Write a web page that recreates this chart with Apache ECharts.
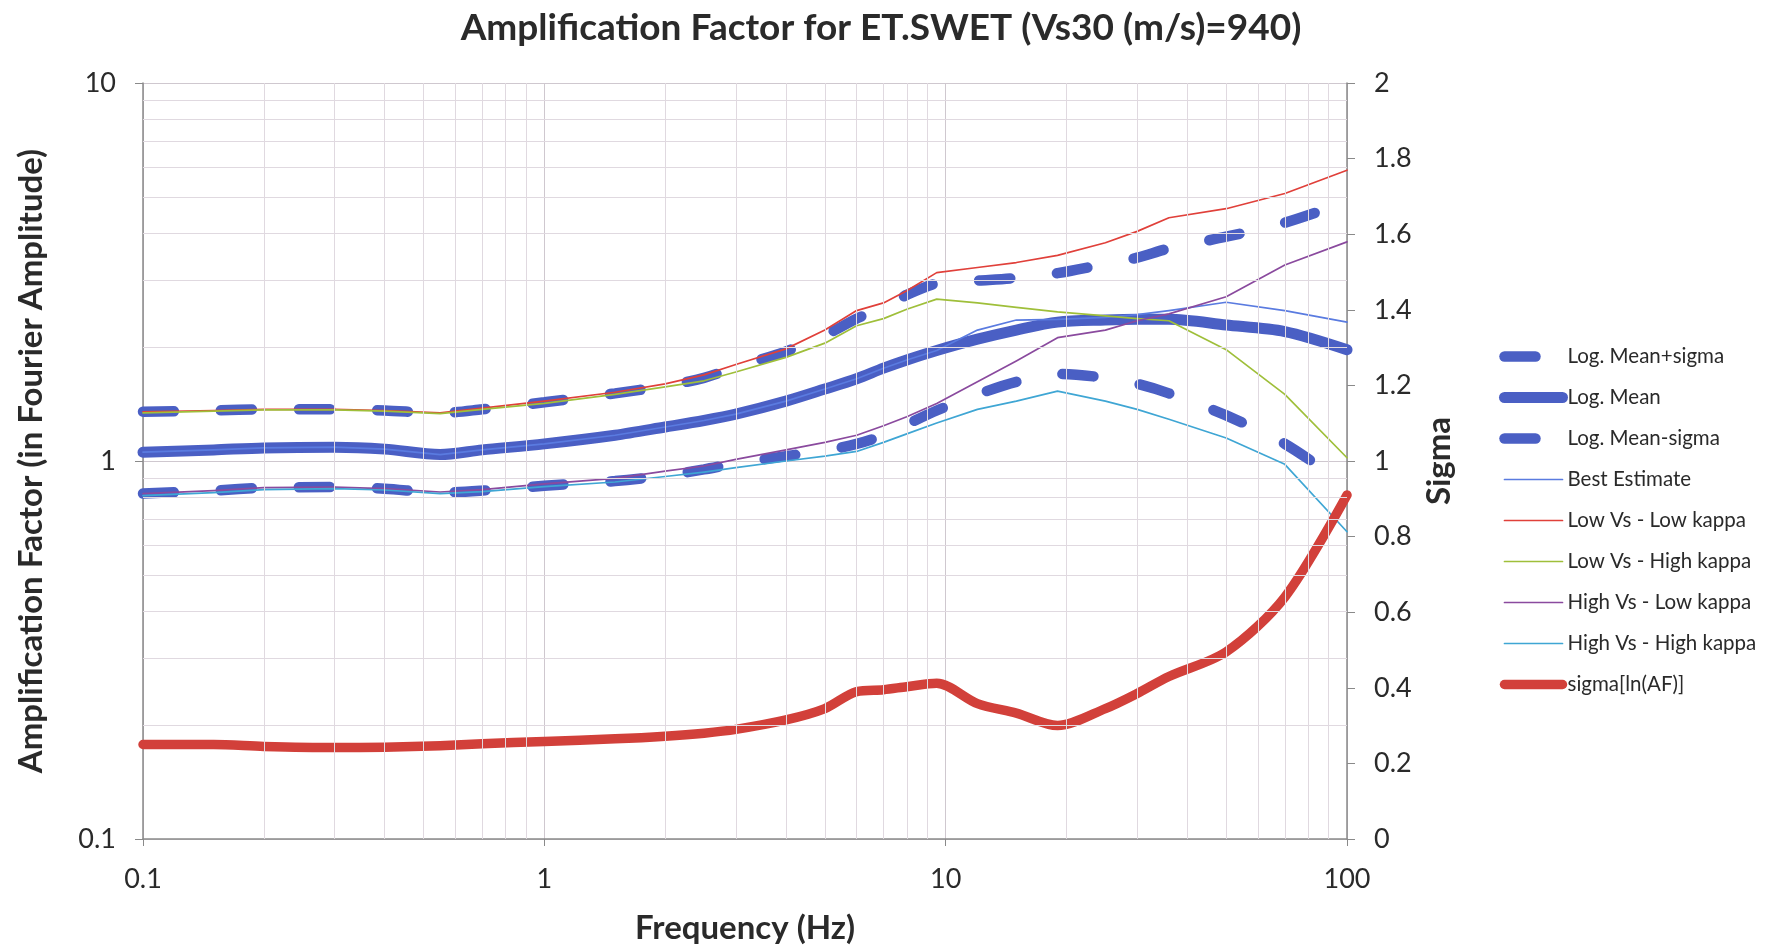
<!DOCTYPE html>
<html>
<head>
<meta charset="utf-8">
<script src="https://cdn.jsdelivr.net/npm/echarts@6/dist/echarts.min.js"></script>
<style>
html,body{margin:0;padding:0;background:#fff;}
#chart{width:1766px;height:950px;}
</style>
</head>
<body>
<div id="chart"></div>
<script>
// Frequency (Hz)
const freq = [0.1, 0.15, 0.2, 0.3, 0.4, 0.55, 0.7, 1, 1.5, 2, 2.5, 3, 4, 5, 6, 7, 8, 9.5, 12, 15, 19, 25, 30, 36, 50, 70, 100];
// Amplification factor series (left axis)
const logMeanPlusSigma = [1.35,1.36,1.37,1.37,1.36,1.34,1.37,1.43,1.51,1.58,1.66,1.77,1.95,2.15,2.38,2.56,2.75,2.95,3.0,3.05,3.14,3.32,3.45,3.65,3.92,4.27,4.85];
const logMean = [1.055,1.07,1.083,1.088,1.075,1.04,1.07,1.11,1.17,1.23,1.28,1.33,1.44,1.55,1.65,1.76,1.85,1.96,2.1,2.22,2.33,2.36,2.37,2.37,2.29,2.2,1.97];
const logMeanMinusSigma = [0.82,0.835,0.85,0.853,0.845,0.825,0.835,0.86,0.885,0.915,0.95,0.985,1.03,1.065,1.11,1.17,1.25,1.36,1.5,1.62,1.7,1.66,1.6,1.51,1.32,1.11,0.86];
const bestEstimate = [1.055,1.07,1.083,1.088,1.075,1.04,1.07,1.11,1.17,1.23,1.28,1.33,1.44,1.55,1.65,1.76,1.85,1.96,2.22,2.36,2.37,2.4,2.44,2.5,2.63,2.5,2.33];
const lowVsLowKappa = [1.35,1.36,1.37,1.37,1.36,1.34,1.38,1.44,1.52,1.6,1.69,1.8,1.98,2.22,2.5,2.62,2.82,3.15,3.25,3.35,3.5,3.78,4.05,4.4,4.65,5.1,5.88];
const lowVsHighKappa = [1.34,1.355,1.365,1.365,1.355,1.335,1.37,1.42,1.5,1.57,1.63,1.72,1.88,2.05,2.28,2.38,2.52,2.68,2.62,2.55,2.48,2.42,2.38,2.35,1.97,1.5,1.02];
const highVsLowKappa = [0.82,0.835,0.85,0.853,0.845,0.828,0.84,0.87,0.9,0.94,0.97,1.01,1.07,1.12,1.17,1.24,1.31,1.42,1.62,1.84,2.12,2.22,2.35,2.45,2.72,3.3,3.8];
const highVsHighKappa = [0.81,0.825,0.84,0.845,0.838,0.82,0.83,0.855,0.88,0.91,0.935,0.96,1.0,1.03,1.06,1.12,1.18,1.26,1.37,1.44,1.53,1.44,1.37,1.29,1.15,0.98,0.65];
// Sigma (right axis)
const sigmaLnAF = [0.25,0.25,0.245,0.242,0.243,0.247,0.252,0.258,0.265,0.272,0.28,0.29,0.315,0.345,0.39,0.395,0.403,0.412,0.358,0.333,0.3,0.345,0.385,0.43,0.495,0.64,0.91];
// Minor (log) grid line values
const xMinorGrid = [0.2,0.3,0.4,0.5,0.6,0.7,0.8,0.9,2,3,4,5,6,7,8,9,20,30,40,50,60,70,80,90];
const yMinorGrid = [0.2,0.3,0.4,0.5,0.6,0.7,0.8,0.9,2,3,4,5,6,7,8,9];
const legendNames = ['Log. Mean+sigma', 'Log. Mean', 'Log. Mean-sigma', 'Best Estimate', 'Low Vs - Low kappa',
                     'Low Vs - High kappa', 'High Vs - Low kappa', 'High Vs - High kappa', 'sigma[ln(AF)]'];

const FONT = 'Lato, "Open Sans", sans-serif';
const pairs = arr => freq.map((f, i) => [f, arr[i]]);

const DASH = [31, 47];
const dashStyle = { type: DASH, cap: 'round', width: 10.5 };

function line(name, arr, color, width, opts) {
  return Object.assign({
    name: name, type: 'line', data: pairs(arr), symbol: 'none', showSymbol: false,
    xAxisIndex: 0, yAxisIndex: 0, z: 3,
    lineStyle: { color: color, width: width, cap: 'round', join: 'round' },
    itemStyle: { color: color },
    emphasis: { disabled: true }
  }, opts || {});
}

const blue = '#4a5fc4';
const series = [
  {
    name: '_grid', type: 'line', data: [[0.1, 1]], symbol: 'none', showSymbol: false,
    lineStyle: { opacity: 0 }, z: 1, silent: true,
    markLine: {
      silent: true, symbol: ['none', 'none'], label: { show: false }, animation: false,
      lineStyle: { color: '#e0d9e0', type: 'solid', width: 1 },
      emphasis: { disabled: true },
      data: xMinorGrid.map(v => ({ xAxis: v })).concat(yMinorGrid.map(v => ({ yAxis: v })))
    }
  },
  line(legendNames[0], logMeanPlusSigma, blue, 10.5, { smooth: 0.3, lineStyle: Object.assign({ color: blue }, dashStyle) }),
  line(legendNames[1], logMean, blue, 11, { smooth: 0.3 }),
  line(legendNames[2], logMeanMinusSigma, blue, 10.5, { smooth: 0.3, lineStyle: Object.assign({ color: blue }, dashStyle) }),
  line(legendNames[3], bestEstimate, '#5a7be0', 1.7),
  line(legendNames[4], lowVsLowKappa, '#e0403a', 1.7),
  line(legendNames[5], lowVsHighKappa, '#9fbf3a', 1.7),
  line(legendNames[6], highVsLowKappa, '#8a4a9e', 1.7),
  line(legendNames[7], highVsHighKappa, '#3fa6d4', 1.7),
  line(legendNames[8], sigmaLnAF, '#d2403a', 9.5, { yAxisIndex: 1, smooth: 0.3, z: 4 })
];

const legendData = legendNames.map((n, i) => (i === 0 || i === 2)
  ? { name: n, lineStyle: { type: DASH, width: 10.5, cap: 'round' } }
  : { name: n });

const chart = echarts.init(document.getElementById('chart'), null, { renderer: 'canvas' });
chart.setOption({
  animation: false,
  backgroundColor: '#ffffff',
  textStyle: { fontFamily: FONT },
  title: {
    text: 'Amplification Factor for ET.SWET (Vs30 (m/s)=940)',
    left: 876, top: 5, textAlign: 'center',
    textStyle: { fontFamily: FONT, fontWeight: 'bold', fontSize: 37, color: '#2a2a2a' }
  },
  grid: { left: 143, right: 419, top: 83, bottom: 111, containLabel: false },
  legend: {
    orient: 'vertical', left: 1499, top: 346, padding: 0,
    itemWidth: 58, itemHeight: 14, itemGap: 20,
    data: legendData,
    lineStyle: { width: 'inherit', type: 'inherit', cap: 'inherit' },
    itemStyle: { opacity: 0 },
    textStyle: { fontFamily: FONT, fontSize: 20.5, color: '#2a2a2a', lineHeight: 20.5 },
    selectedMode: false
  },
  xAxis: {
    type: 'log', logBase: 10, min: 0.1, max: 100,
    name: 'Frequency (Hz)', nameLocation: 'middle', nameGap: 72.5,
    nameTextStyle: { fontFamily: FONT, fontWeight: 'bold', fontSize: 33, color: '#2a2a2a' },
    axisLine: { onZero: false, lineStyle: { color: '#8a8a8a', width: 1.5 } },
    axisTick: { show: true, length: 7, lineStyle: { color: '#8a8a8a' } },
    axisLabel: { fontFamily: FONT, fontSize: 27, color: '#2a2a2a', margin: 27,
                 formatter: v => String(+v.toPrecision(3)) },
    splitLine: { show: true, lineStyle: { color: '#cfc8cf', width: 1 } }
  },
  yAxis: [
    {
      type: 'log', logBase: 10, min: 0.1, max: 10, position: 'left',
      name: 'Amplification Factor (in Fourier Amplitude)', nameLocation: 'middle', nameGap: 95,
      nameTextStyle: { fontFamily: FONT, fontWeight: 'bold', fontSize: 33, color: '#2a2a2a' },
      axisLine: { show: true, lineStyle: { color: '#8a8a8a', width: 1.5 } },
      axisTick: { show: true, length: 8, lineStyle: { color: '#8a8a8a' } },
      axisLabel: { fontFamily: FONT, fontSize: 27, color: '#2a2a2a', margin: 27,
                   formatter: v => String(+v.toPrecision(3)) },
      splitLine: { show: true, lineStyle: { color: '#cfc8cf', width: 1 } }
    },
    {
      type: 'value', min: 0, max: 2, interval: 0.2, position: 'right',
      name: 'Sigma', nameLocation: 'middle', nameGap: 76,
      nameTextStyle: { fontFamily: FONT, fontWeight: 'bold', fontSize: 33, color: '#2a2a2a' },
      axisLine: { show: true, lineStyle: { color: '#8a8a8a', width: 1.5 } },
      axisTick: { show: true, length: 8, lineStyle: { color: '#8a8a8a' } },
      axisLabel: { fontFamily: FONT, fontSize: 27, color: '#2a2a2a', margin: 27,
                   formatter: v => String(+v.toFixed(1)) },
      splitLine: { show: false }
    }
  ],
  series: series
});
</script>
</body>
</html>
